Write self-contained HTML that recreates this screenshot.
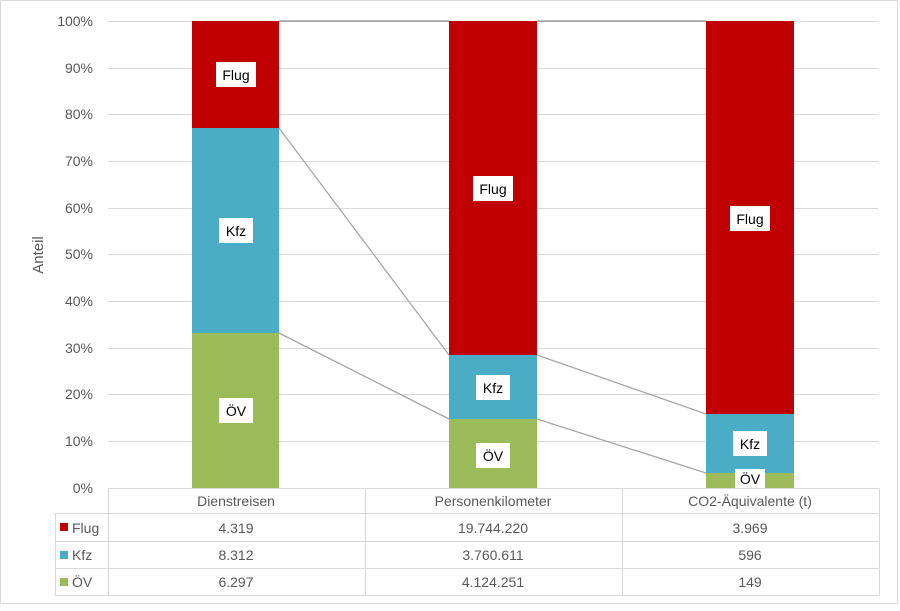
<!DOCTYPE html>
<html><head><meta charset="utf-8"><style>
body{margin:0;background:#fff}
text{font-family:"Liberation Sans",sans-serif;fill:#595959}
</style></head><body>
<svg width="900" height="606" xmlns="http://www.w3.org/2000/svg">
<rect x="0.5" y="0.5" width="897" height="603" fill="#fff" stroke="#d9d9d9"/>
<g stroke="#d9d9d9" stroke-width="1">
<line x1="108" x2="878" y1="21.5" y2="21.5"/>
<line x1="108" x2="878" y1="68.5" y2="68.5"/>
<line x1="108" x2="878" y1="114.5" y2="114.5"/>
<line x1="108" x2="878" y1="161.5" y2="161.5"/>
<line x1="108" x2="878" y1="208.5" y2="208.5"/>
<line x1="108" x2="878" y1="254.5" y2="254.5"/>
<line x1="108" x2="878" y1="301.5" y2="301.5"/>
<line x1="108" x2="878" y1="348.5" y2="348.5"/>
<line x1="108" x2="878" y1="394.5" y2="394.5"/>
<line x1="108" x2="878" y1="441.5" y2="441.5"/>
</g>
<g font-size="14" text-anchor="end">
<text x="93" y="26">100%</text><text x="93" y="73">90%</text><text x="93" y="119">80%</text>
<text x="93" y="166">70%</text><text x="93" y="213">60%</text><text x="93" y="259">50%</text>
<text x="93" y="306">40%</text><text x="93" y="353">30%</text><text x="93" y="399">20%</text>
<text x="93" y="446">10%</text><text x="93" y="493">0%</text>
</g>
<text x="43" y="255" font-size="15" transform="rotate(-90 43 255)" text-anchor="middle">Anteil</text>
<!-- bars -->
<rect x="192" y="21" width="87" height="107" fill="#c00000"/>
<rect x="192" y="128" width="87" height="205" fill="#4bacc6"/>
<rect x="192" y="333" width="87" height="155" fill="#9bbb59"/>
<rect x="449" y="21" width="88" height="334" fill="#c00000"/>
<rect x="449" y="355" width="88" height="64" fill="#4bacc6"/>
<rect x="449" y="419" width="88" height="69" fill="#9bbb59"/>
<rect x="706" y="21" width="88" height="393" fill="#c00000"/>
<rect x="706" y="414" width="88" height="59" fill="#4bacc6"/>
<rect x="706" y="473" width="88" height="15" fill="#9bbb59"/>
<g stroke="#a6a6a6" stroke-width="1.3">
<line x1="279" y1="21" x2="449" y2="21" stroke="#8c8c8c"/>
<line x1="537" y1="21" x2="706" y2="21" stroke="#8c8c8c"/>
<line x1="279" y1="128" x2="449" y2="355"/>
<line x1="279" y1="333" x2="449" y2="419"/>
<line x1="537" y1="355" x2="706" y2="414"/>
<line x1="537" y1="419" x2="706" y2="473"/>
</g>
<!-- labels -->
<g font-size="14" text-anchor="middle">
<rect x="216" y="62" width="40" height="25" fill="#fff"/><text x="236" y="80" fill="#000" style="fill:#000">Flug</text>
<rect x="219" y="218" width="34" height="25" fill="#fff"/><text x="236" y="236" style="fill:#000">Kfz</text>
<rect x="219" y="398" width="34" height="25" fill="#fff"/><text x="236" y="416" style="fill:#000">ÖV</text>
<rect x="473" y="176" width="40" height="25" fill="#fff"/><text x="493" y="194" style="fill:#000">Flug</text>
<rect x="476" y="375" width="34" height="25" fill="#fff"/><text x="493" y="393" style="fill:#000">Kfz</text>
<rect x="476" y="443" width="34" height="25" fill="#fff"/><text x="493" y="461" style="fill:#000">ÖV</text>
<rect x="730" y="206" width="40" height="25" fill="#fff"/><text x="750" y="224" style="fill:#000">Flug</text>
<rect x="733" y="431" width="34" height="25" fill="#fff"/><text x="750" y="449" style="fill:#000">Kfz</text>
<rect x="735" y="469" width="30" height="19" fill="#fff"/><text x="750" y="484" style="fill:#000">ÖV</text>
</g>
<!-- table -->
<g stroke="#d9d9d9" stroke-width="1" fill="none">
<line x1="108.5" y1="488" x2="108.5" y2="596"/>
<line x1="365.5" y1="488" x2="365.5" y2="596"/>
<line x1="622.5" y1="488" x2="622.5" y2="596"/>
<line x1="879.5" y1="488" x2="879.5" y2="596"/>
<line x1="55.5" y1="513" x2="55.5" y2="596"/>
<line x1="108" y1="488.5" x2="880" y2="488.5"/>
<line x1="55" y1="513.5" x2="880" y2="513.5"/>
<line x1="55" y1="541.5" x2="880" y2="541.5"/>
<line x1="55" y1="568.5" x2="880" y2="568.5"/>
<line x1="55" y1="595.5" x2="880" y2="595.5"/>
</g>
<g font-size="14" text-anchor="middle">
<text x="236" y="506">Dienstreisen</text><text x="493" y="506">Personenkilometer</text><text x="750" y="506">CO2-Äquivalente (t)</text>
<text x="236" y="533">4.319</text><text x="493" y="533">19.744.220</text><text x="750" y="533">3.969</text>
<text x="236" y="560">8.312</text><text x="493" y="560">3.760.611</text><text x="750" y="560">596</text>
<text x="236" y="587">6.297</text><text x="493" y="587">4.124.251</text><text x="750" y="587">149</text>
</g>
<rect x="60" y="523" width="8" height="8" fill="#c00000"/><text x="72" y="533" font-size="14">Flug</text>
<rect x="60" y="551" width="8" height="8" fill="#4bacc6"/><text x="72" y="560" font-size="14">Kfz</text>
<rect x="60" y="578" width="8" height="8" fill="#9bbb59"/><text x="72" y="587" font-size="14">ÖV</text>
</svg>
</body></html>
